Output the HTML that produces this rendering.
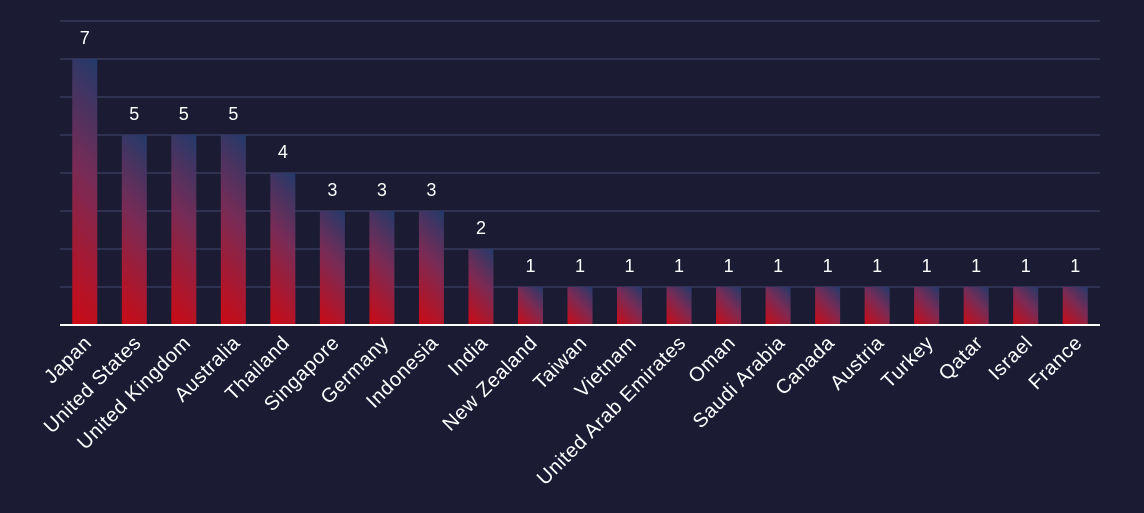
<!DOCTYPE html>
<html><head><style>
html,body{margin:0;padding:0;background:#1b1c34;}
svg{display:block;font-family:"Liberation Sans",sans-serif;}
</style></head><body>
<svg width="1144" height="513" viewBox="0 0 1144 513" xmlns="http://www.w3.org/2000/svg">
<defs id="defs"></defs>
<rect width="1144" height="513" fill="#1b1c34"/>
<g stroke="#2f3351" stroke-width="2">
<line x1="60" x2="1100" y1="21" y2="21"/>
<line x1="60" x2="1100" y1="59" y2="59"/>
<line x1="60" x2="1100" y1="97" y2="97"/>
<line x1="60" x2="1100" y1="135" y2="135"/>
<line x1="60" x2="1100" y1="173" y2="173"/>
<line x1="60" x2="1100" y1="211" y2="211"/>
<line x1="60" x2="1100" y1="249" y2="249"/>
<line x1="60" x2="1100" y1="287" y2="287"/>
</g>
<g id="bars"></g>
<line x1="60" x2="1100" y1="325" y2="325" stroke="#ffffff" stroke-width="2"/>
<g id="labels" fill="#ffffff"></g>
<script>
var d=[["Japan",7],["United States",5],["United Kingdom",5],["Australia",5],["Thailand",4],["Singapore",3],["Germany",3],["Indonesia",3],["India",2],["New Zealand",1],["Taiwan",1],["Vietnam",1],["United Arab Emirates",1],["Oman",1],["Saudi Arabia",1],["Canada",1],["Austria",1],["Turkey",1],["Qatar",1],["Israel",1],["France",1]];
var ns="http://www.w3.org/2000/svg",b=document.getElementById("bars"),l=document.getElementById("labels"),df=document.getElementById("defs");
var step=1040/21;
d.forEach(function(e,i){
 var cx=60+step*(i+0.5),h=e[1]*38,y=325-h,x=cx-12.5,dd=(25+h)/2;
 var g=document.createElementNS(ns,"linearGradient");
 g.setAttribute("id","g"+i);g.setAttribute("gradientUnits","userSpaceOnUse");
 g.setAttribute("x1",x);g.setAttribute("y1",325);g.setAttribute("x2",x+dd);g.setAttribute("y2",325-dd);
 [["0","#cc0a14"],["0.55","#7a2b55"],["1","#233a6a"]].forEach(function(s){var st=document.createElementNS(ns,"stop");st.setAttribute("offset",s[0]);st.setAttribute("stop-color",s[1]);g.appendChild(st);});
 df.appendChild(g);
 var r=document.createElementNS(ns,"rect");
 r.setAttribute("x",x);r.setAttribute("y",y);r.setAttribute("width",25);r.setAttribute("height",h);r.setAttribute("fill","url(#g"+i+")");b.appendChild(r);
 var t=document.createElementNS(ns,"text");
 t.setAttribute("x",cx);t.setAttribute("y",y-15);t.setAttribute("text-anchor","middle");t.setAttribute("font-size","18");t.textContent=e[1];l.appendChild(t);
 var c=document.createElementNS(ns,"text");
 c.setAttribute("text-anchor","end");c.setAttribute("font-size","20");c.setAttribute("letter-spacing","0.6");c.setAttribute("transform","translate("+(cx+8)+",344) rotate(-45)");c.textContent=e[0];l.appendChild(c);
});
</script>
</svg>
</body></html>
